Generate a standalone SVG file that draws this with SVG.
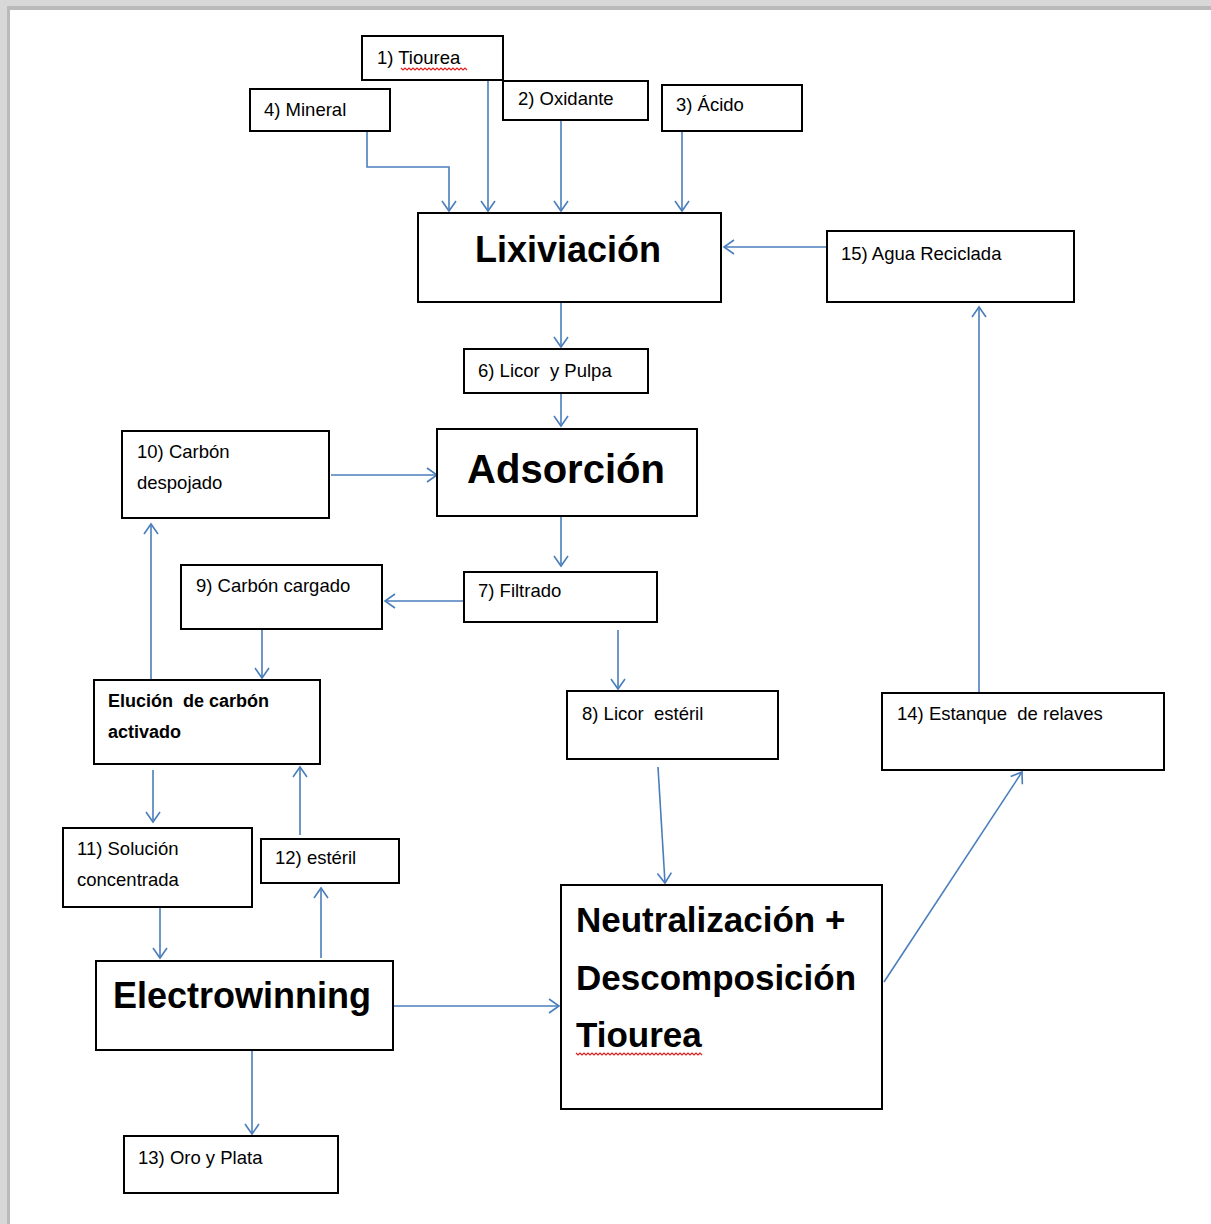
<svg xmlns="http://www.w3.org/2000/svg" width="1211" height="1224" viewBox="0 0 1211 1224">
<style>
.box{fill:#fff;stroke:#000;stroke-width:2}
.t{font-family:"Liberation Sans",Arial,sans-serif;font-size:18.5px;fill:#000}
.tb{font-family:"Liberation Sans",Arial,sans-serif;font-size:18px;font-weight:bold;fill:#000}
.big{font-family:"Liberation Sans",Arial,sans-serif;font-size:36px;font-weight:bold;fill:#000}
.c{fill:none;stroke:#4a7ebb;stroke-width:1.6}
.sq{fill:none;stroke:#e02020;stroke-width:1.2}
</style>
<defs>
<marker id="a" markerUnits="userSpaceOnUse" markerWidth="20" markerHeight="20" refX="11" refY="8" orient="auto">
<path d="M1,1 L11,8 L1,15" fill="none" stroke="#4a7ebb" stroke-width="1.6"/>
</marker>
</defs>
<rect x="0" y="0" width="1211" height="1224" fill="#fff"/>
<rect x="0" y="0" width="1211" height="6" fill="#d8d8d8"/>
<rect x="10" y="6" width="1201" height="4" fill="#bababa"/>
<rect x="0" y="0" width="7" height="1224" fill="#d8d8d8"/>
<rect x="7" y="6" width="3" height="1218" fill="#bababa"/>

<g id="connectors">
<path class="c" d="M367,131 V167 H449 V211" marker-end="url(#a)"/>
<path class="c" d="M488,80 V211" marker-end="url(#a)"/>
<path class="c" d="M561,120 V211" marker-end="url(#a)"/>
<path class="c" d="M682,131 V211" marker-end="url(#a)"/>
<path class="c" d="M827,247 H724" marker-end="url(#a)"/>
<path class="c" d="M561,303 V347" marker-end="url(#a)"/>
<path class="c" d="M561,394 V426" marker-end="url(#a)"/>
<path class="c" d="M331,475 H437" marker-end="url(#a)"/>
<path class="c" d="M561,517 V566" marker-end="url(#a)"/>
<path class="c" d="M464,601 H385" marker-end="url(#a)"/>
<path class="c" d="M262,629 V678" marker-end="url(#a)"/>
<path class="c" d="M151,679 V524" marker-end="url(#a)"/>
<path class="c" d="M618,630 V689" marker-end="url(#a)"/>
<path class="c" d="M153,770 V822" marker-end="url(#a)"/>
<path class="c" d="M160,908 V958" marker-end="url(#a)"/>
<path class="c" d="M321,958 V888" marker-end="url(#a)"/>
<path class="c" d="M300,835 V767" marker-end="url(#a)"/>
<path class="c" d="M658,767 L665,883" marker-end="url(#a)"/>
<path class="c" d="M394,1006 H559" marker-end="url(#a)"/>
<path class="c" d="M252,1051 V1134" marker-end="url(#a)"/>
<path class="c" d="M884,982 L1022,772" marker-end="url(#a)"/>
<path class="c" d="M979,692 V307" marker-end="url(#a)"/>
</g>

<g id="n1"><rect class="box" x="362" y="36" width="141" height="44"/><text class="t" x="377" y="64">1) Tiourea</text>
<path class="sq" d="M401,68 l2,2 l2,-2 l2,2 l2,-2 l2,2 l2,-2 l2,2 l2,-2 l2,2 l2,-2 l2,2 l2,-2 l2,2 l2,-2 l2,2 l2,-2 l2,2 l2,-2 l2,2 l2,-2 l2,2 l2,-2 l2,2 l2,-2 l2,2 l2,-2 l2,2 l2,-2 l2,2 l2,-2 l2,2 l2,-2 l2,2"/></g>
<g id="n2"><rect class="box" x="503" y="81" width="145" height="39"/><text class="t" x="518" y="105">2) Oxidante</text></g>
<g id="n3"><rect class="box" x="662" y="85" width="140" height="46"/><text class="t" x="676" y="111">3) Ácido</text></g>
<g id="n4"><rect class="box" x="250" y="89" width="140" height="42"/><text class="t" x="264" y="116">4) Mineral</text></g>
<g id="lix"><rect class="box" x="418" y="213" width="303" height="89"/><text class="big" x="568" y="262" text-anchor="middle">Lixiviación</text></g>
<g id="n15"><rect class="box" x="827" y="231" width="247" height="71"/><text class="t" x="841" y="260">15) Agua Reciclada</text></g>
<g id="n6"><rect class="box" x="464" y="349" width="184" height="44"/><text class="t" x="478" y="377" xml:space="preserve">6) Licor  y Pulpa</text></g>
<g id="ads"><rect class="box" x="437" y="429" width="260" height="87"/><text class="big" x="566" y="483" text-anchor="middle" style="font-size:40px">Adsorción</text></g>
<g id="n10"><rect class="box" x="122" y="431" width="207" height="87"/><text class="t" x="137" y="458">10) Carbón</text><text class="t" x="137" y="489">despojado</text></g>
<g id="n9"><rect class="box" x="181" y="565" width="201" height="64"/><text class="t" x="196" y="592">9) Carbón cargado</text></g>
<g id="n7"><rect class="box" x="464" y="572" width="193" height="50"/><text class="t" x="478" y="597">7) Filtrado</text></g>
<g id="elu"><rect class="box" x="94" y="680" width="226" height="84"/><text class="tb" x="108" y="707" xml:space="preserve">Elución  de carbón</text><text class="tb" x="108" y="738">activado</text></g>
<g id="n8"><rect class="box" x="567" y="691" width="211" height="68"/><text class="t" x="582" y="720" xml:space="preserve">8) Licor  estéril</text></g>
<g id="n14"><rect class="box" x="882" y="693" width="282" height="77"/><text class="t" x="897" y="720" xml:space="preserve">14) Estanque  de relaves</text></g>
<g id="n11"><rect class="box" x="63" y="828" width="189" height="79"/><text class="t" x="77" y="855">11) Solución</text><text class="t" x="77" y="886">concentrada</text></g>
<g id="n12"><rect class="box" x="261" y="839" width="138" height="44"/><text class="t" x="275" y="864">12) estéril</text></g>
<g id="neu"><rect class="box" x="561" y="885" width="321" height="224"/>
<text class="big" x="576" y="932" style="font-size:35px">Neutralización +</text>
<text class="big" x="576" y="990" style="font-size:35px">Descomposición</text>
<text class="big" x="576" y="1047" style="font-size:35px">Tiourea</text>
<path class="sq" d="M576,1053 l2,2 l2,-2 l2,2 l2,-2 l2,2 l2,-2 l2,2 l2,-2 l2,2 l2,-2 l2,2 l2,-2 l2,2 l2,-2 l2,2 l2,-2 l2,2 l2,-2 l2,2 l2,-2 l2,2 l2,-2 l2,2 l2,-2 l2,2 l2,-2 l2,2 l2,-2 l2,2 l2,-2 l2,2 l2,-2 l2,2 l2,-2 l2,2 l2,-2 l2,2 l2,-2 l2,2 l2,-2 l2,2 l2,-2 l2,2 l2,-2 l2,2 l2,-2 l2,2 l2,-2 l2,2 l2,-2 l2,2 l2,-2 l2,2 l2,-2 l2,2 l2,-2 l2,2 l2,-2 l2,2 l2,-2 l2,2 l2,-2 l2,2"/></g>
<g id="ew"><rect class="box" x="96" y="961" width="297" height="89"/><text class="big" x="113" y="1008">Electrowinning</text></g>
<g id="n13"><rect class="box" x="124" y="1136" width="214" height="57"/><text class="t" x="138" y="1164">13) Oro y Plata</text></g>
</svg>
